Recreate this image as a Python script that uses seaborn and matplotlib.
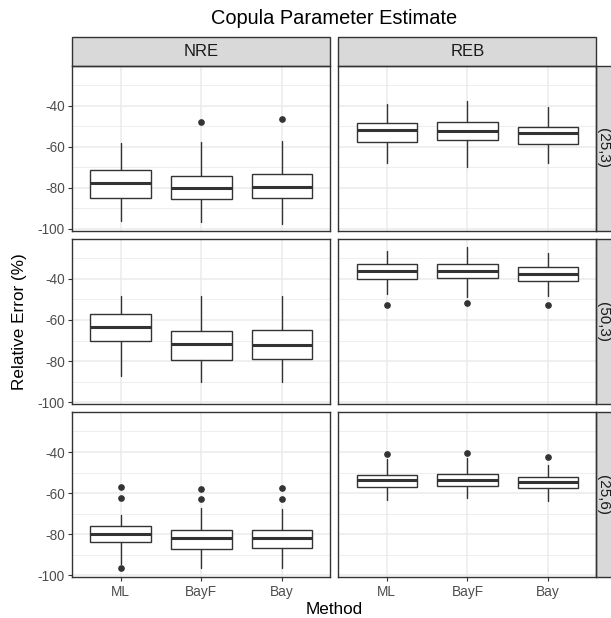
import numpy as np
import pandas as pd
import matplotlib
matplotlib.use("Agg")
import matplotlib.pyplot as plt
from matplotlib.patches import Rectangle
import seaborn as sns

# ---- data -------------------------------------------------------------
settings = ["(25,3)", "(50,3)", "(25,6)"]
measures = ["NRE", "REB"]
methods = ["ML", "BayF", "Bay"]

# Box summaries, listed per setting: NRE (ML, BayF, Bay) then REB (ML, BayF, Bay)
whisker_low = [-96.3, -96.6, -97.4, -67.7, -69.7, -67.7,
               -87.5, -90.0, -90.3, -47.3, -48.9, -48.5,
               -94.5, -96.3, -96.6, -63.4, -62.4, -63.6]
q1 = [-84.9, -85.6, -84.8, -57.5, -56.9, -58.6,
      -70.0, -79.6, -78.8, -40.2, -39.7, -41.0,
      -83.8, -87.2, -86.7, -57.2, -56.7, -57.7]
median = [-77.5, -79.9, -79.4, -51.8, -52.3, -53.1,
          -63.4, -71.8, -72.0, -36.4, -36.4, -37.8,
          -79.9, -81.8, -81.8, -53.6, -53.6, -54.8]
q3 = [-71.1, -74.0, -73.1, -48.3, -47.9, -50.2,
      -57.0, -65.2, -65.0, -32.9, -32.9, -34.0,
      -76.0, -77.8, -78.1, -51.0, -50.5, -52.0]
whisker_high = [-58.0, -57.5, -57.2, -39.2, -37.7, -40.5,
                -48.3, -48.4, -48.4, -26.6, -24.6, -27.2,
                -70.8, -67.4, -67.6, -43.6, -43.1, -46.5]
outliers = [[], [-47.9], [-46.6], [], [], [],
            [], [], [], [-52.8], [-51.7], [-52.7],
            [-57.2, -62.5, -96.3], [-58.2, -62.9], [-57.7, -62.7],
            [-41.1], [-40.3], [-42.4]]

y_major = [-100, -80, -60, -40]
y_minor = [-90, -70, -50, -30]

df = pd.DataFrame({
    "Setting": np.repeat(settings, 6),
    "Measure": np.tile(np.repeat(measures, 3), 3),
    "Method": np.tile(methods, 6),
    "wlo": whisker_low, "q1": q1, "med": median, "q3": q3, "whi": whisker_high,
})
df["fliers"] = outliers

# ---- style ------------------------------------------------------------
sns.set_style("white")
plt.rcParams["font.family"] = ["Liberation Sans", "DejaVu Sans"]

INK = "#333333"
GRID = "#EBEBEB"
STRIP = "#D9D9D9"
LW = 1.0


def draw_boxes(data, **kws):
    ax = plt.gca()
    stats = []
    for _, r in data.iterrows():
        stats.append(dict(med=r["med"], q1=r["q1"], q3=r["q3"],
                          whislo=r["wlo"], whishi=r["whi"],
                          fliers=np.array(r["fliers"]), label=r["Method"]))
    pos = [methods.index(m) + 1 for m in data["Method"]]
    ax.bxp(stats, positions=pos, widths=0.75, showcaps=False,
           patch_artist=True, manage_ticks=False,
           boxprops=dict(facecolor="white", edgecolor=INK, linewidth=LW),
           medianprops=dict(color=INK, linewidth=2.2 * LW),
           whiskerprops=dict(color=INK, linewidth=LW),
           flierprops=dict(marker="o", markersize=3.8, markerfacecolor=INK,
                           markeredgecolor=INK, linestyle="none"))


g = sns.FacetGrid(df, row="Setting", col="Measure", row_order=settings,
                  col_order=measures, height=2, aspect=1.5, despine=False,
                  sharex=True, sharey=True)
g.map_dataframe(draw_boxes)
g.set_titles(template="")
g.set_axis_labels("", "")

fig = g.figure
fig.set_size_inches(6.11, 6.18)
W, H = 611, 618
fig.subplots_adjust(left=72.3 / W, right=596.5 / W,
                    top=1 - 66 / H, bottom=1 - 577 / H,
                    wspace=0.031, hspace=0.052)

strip_h = 28.7 / 164.7
strip_w = 28.7 / 258.1

for i in range(3):
    for j in range(2):
        ax = g.axes[i, j]
        ax.set_xlim(0.4, 3.6)
        ax.set_ylim(-100.8, -20.7)
        ax.set_xticks([1, 2, 3])
        ax.set_xticklabels(methods)
        ax.set_yticks(y_major)
        ax.set_yticklabels([str(v) for v in y_major])
        ax.set_yticks(y_minor, minor=True)
        ax.set_axisbelow(True)
        ax.grid(which="major", color=GRID, linewidth=1.1)
        ax.grid(which="minor", axis="y", color=GRID, linewidth=0.6)
        ax.set_facecolor("white")
        for s in ax.spines.values():
            s.set_visible(True)
            s.set_color(INK)
            s.set_linewidth(LW)
        ax.tick_params(which="minor", length=0)
        ax.tick_params(which="major", length=3.0, width=0.8, color=INK,
                       labelcolor="#4D4D4D", labelsize=9.8, pad=2.5)
        ax.tick_params(axis="y", left=(j == 0), labelleft=(j == 0))
        ax.tick_params(axis="x", bottom=(i == 2), labelbottom=(i == 2))
        for lab in ax.get_yticklabels() + ax.get_xticklabels():
            lab.set_visible(True)
        ax.set_xlabel("")
        ax.set_ylabel("")

        if i == 0:
            ax.add_patch(Rectangle((0, 1), 1, strip_h, transform=ax.transAxes,
                                   clip_on=False, facecolor=STRIP,
                                   edgecolor=INK, linewidth=LW))
            ax.text(0.5, 1 + strip_h / 2, measures[j], transform=ax.transAxes,
                    ha="center", va="center", fontsize=12.0, color="#1A1A1A")
        if j == 1:
            ax.add_patch(Rectangle((1, 0), strip_w, 1, transform=ax.transAxes,
                                   clip_on=False, facecolor=STRIP,
                                   edgecolor=INK, linewidth=LW))
            ax.text(1 + 7.0 / 258.1, 0.5, settings[i], transform=ax.transAxes,
                    ha="center", va="center", rotation=270, fontsize=11.0,
                    color="#1A1A1A")

fig.text(334.4 / W, 1 - 18.3 / H, "Copula Parameter Estimate",
         ha="center", va="center", fontsize=14.4, color="black")
fig.text(334.4 / W, 1 - 609 / H, "Method", ha="center", va="center",
         fontsize=12.3, color="black")
fig.text(20 / W, 1 - 321.5 / H, "Relative Error (%)", ha="center",
         va="center", rotation=90, fontsize=12.3, color="black")

fig.savefig("out.png", dpi=100, facecolor="white")
